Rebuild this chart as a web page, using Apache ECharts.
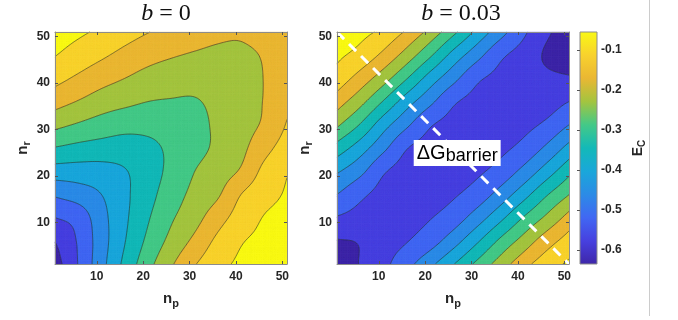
<!DOCTYPE html>
<html>
<head>
<meta charset="utf-8">
<script src="https://cdn.jsdelivr.net/npm/echarts@6/dist/echarts.min.js"></script>
<style>
html,body{margin:0;padding:0;background:#ffffff;}
#chart{width:678px;height:320px;}
</style>
</head>
<body>
<div id="chart"></div>
<script>
// ---------------- data ----------------
// grid node positions used for both n_p (columns) and n_r (rows)
const nGrid = [1, 6, 11, 16, 21, 26, 31, 36, 41, 46, 51];
const axisTickValues = [10, 20, 30, 40, 50];
const colorbarTickValues = [-0.6, -0.5, -0.4, -0.3, -0.2, -0.1];
const ecLimits = [-0.635, -0.055];
const contourLevels = [-0.606, -0.548, -0.49, -0.432, -0.374, -0.316, -0.258, -0.2, -0.142, -0.084];
const panelTitles = ['b = 0', 'b = 0.03'];
const barrierLabel = ['\u0394G', 'barrier'];
const barrierLabelAt = [[26.9, 24.9]];
const barrierPath = [[1, 51], [51, 1]];

// E_C, b = 0 : rows are n_r = 1..51, columns n_p = 1..51
const ecB0 = [
  [-0.632, -0.546, -0.452, -0.360, -0.278, -0.208, -0.147, -0.102, -0.075, -0.063, -0.055],
  [-0.604, -0.542, -0.458, -0.377, -0.304, -0.242, -0.188, -0.130, -0.089, -0.073, -0.062],
  [-0.548, -0.525, -0.452, -0.385, -0.322, -0.266, -0.222, -0.167, -0.117, -0.082, -0.068],
  [-0.482, -0.462, -0.432, -0.386, -0.336, -0.286, -0.243, -0.208, -0.143, -0.105, -0.078],
  [-0.400, -0.400, -0.396, -0.378, -0.341, -0.302, -0.259, -0.228, -0.194, -0.128, -0.088],
  [-0.319, -0.332, -0.339, -0.341, -0.330, -0.305, -0.277, -0.247, -0.215, -0.162, -0.115],
  [-0.243, -0.264, -0.283, -0.297, -0.298, -0.290, -0.274, -0.249, -0.222, -0.192, -0.138],
  [-0.178, -0.203, -0.228, -0.244, -0.258, -0.262, -0.262, -0.245, -0.224, -0.198, -0.152],
  [-0.124, -0.152, -0.179, -0.200, -0.220, -0.232, -0.238, -0.235, -0.225, -0.199, -0.160],
  [-0.082, -0.108, -0.133, -0.158, -0.180, -0.195, -0.205, -0.210, -0.208, -0.196, -0.165],
  [-0.058, -0.074, -0.095, -0.118, -0.140, -0.160, -0.177, -0.190, -0.195, -0.185, -0.170]
];

// E_C, b = 0.03
const ecB003 = [
  [-0.625, -0.604, -0.563, -0.510, -0.448, -0.378, -0.305, -0.234, -0.165, -0.110, -0.075],
  [-0.609, -0.602, -0.574, -0.551, -0.517, -0.459, -0.386, -0.308, -0.239, -0.171, -0.118],
  [-0.552, -0.568, -0.580, -0.566, -0.551, -0.521, -0.464, -0.393, -0.316, -0.249, -0.180],
  [-0.490, -0.535, -0.566, -0.575, -0.566, -0.554, -0.525, -0.470, -0.400, -0.324, -0.259],
  [-0.424, -0.474, -0.541, -0.568, -0.575, -0.567, -0.557, -0.529, -0.476, -0.407, -0.333],
  [-0.340, -0.404, -0.476, -0.545, -0.567, -0.575, -0.569, -0.560, -0.533, -0.481, -0.413],
  [-0.248, -0.320, -0.408, -0.479, -0.542, -0.565, -0.575, -0.570, -0.563, -0.538, -0.490],
  [-0.172, -0.239, -0.320, -0.405, -0.475, -0.539, -0.564, -0.575, -0.577, -0.574, -0.548],
  [-0.108, -0.166, -0.233, -0.313, -0.399, -0.471, -0.536, -0.563, -0.585, -0.595, -0.600],
  [-0.073, -0.104, -0.156, -0.225, -0.306, -0.394, -0.467, -0.534, -0.571, -0.612, -0.632],
  [-0.050, -0.068, -0.098, -0.150, -0.218, -0.300, -0.386, -0.464, -0.534, -0.596, -0.626]
];

// ---------------- styles ----------------
const bandColors = ['#3e26a8', '#4740df', '#4167f3', '#2c8be6', '#1aa7da', '#13b9b8',
                    '#44c987', '#a4c43f', '#eab733', '#f8d22d', '#f9f914'];
const FONT = 'Liberation Sans';
const TXT = '#262626';
const FRAME = '#8c8c8c';

// ---------------- contour helpers ----------------
function cr(p0, p1, p2, p3, t) {
  const t2 = t * t, t3 = t2 * t;
  return 0.5 * (2 * p1 + (-p0 + p2) * t + (2 * p0 - 5 * p1 + 4 * p2 - p3) * t2 + (-p0 + 3 * p1 - 3 * p2 + p3) * t3);
}
function refine1(arr, sub) {
  const n = arr.length;
  const ext = i => i < 0 ? 2 * arr[0] - arr[1] : (i >= n ? 2 * arr[n - 1] - arr[n - 2] : arr[i]);
  const out = [];
  for (let i = 0; i < n - 1; i++) {
    for (let s = 0; s < sub; s++) out.push(cr(ext(i - 1), ext(i), ext(i + 1), ext(i + 2), s / sub));
  }
  out.push(arr[n - 1]);
  return out;
}
function refine2(grid, sub) {
  const rows = grid.map(r => refine1(r, sub));
  const M = rows[0].length;
  const cols = [];
  for (let m = 0; m < M; m++) cols.push(refine1(rows.map(r => r[m]), sub));
  const K = cols[0].length;
  const fine = [];
  for (let k = 0; k < K; k++) fine.push(cols.map(c => c[k]));
  return fine;
}
function bandOf(v) {
  let k = 0;
  while (k < contourLevels.length && v >= contourLevels[k]) k++;
  return k;
}
function clipPoly(poly, level, keepAbove) {
  const out = [];
  const n = poly.length;
  for (let i = 0; i < n; i++) {
    const A = poly[i], B = poly[(i + 1) % n];
    const ina = keepAbove ? A.v >= level : A.v <= level;
    const inb = keepAbove ? B.v >= level : B.v <= level;
    if (ina) out.push(A);
    if (ina !== inb) {
      const t = (level - A.v) / (B.v - A.v);
      out.push({x: A.x + t * (B.x - A.x), y: A.y + t * (B.y - A.y), v: level});
    }
  }
  return out;
}
const f2 = x => Math.round(x * 100) / 100;
function polyStr(poly) {
  let s = 'M' + f2(poly[0].x) + ' ' + f2(poly[0].y);
  for (let i = 1; i < poly.length; i++) s += 'L' + f2(poly[i].x) + ' ' + f2(poly[i].y);
  return s + 'Z';
}

function makeContourRender(grid) {
  return function (params, api) {
    const sub = 10;
    const fine = refine2(grid, sub);
    const K = fine.length;
    const step = (nGrid[1] - nGrid[0]) / sub;
    const P = [];
    for (let k = 0; k < K; k++) {
      const row = [];
      for (let m = 0; m < K; m++) {
        const c = api.coord([nGrid[0] + m * step, nGrid[0] + k * step]);
        row.push({x: c[0], y: c[1], v: fine[k][m]});
      }
      P.push(row);
    }
    const bands = bandColors.map(() => []);
    const lines = [];
    const L = contourLevels;
    function doTri(tri) {
      const vs = tri.map(p => p.v);
      const vmin = Math.min.apply(null, vs), vmax = Math.max.apply(null, vs);
      const b0 = bandOf(vmin), b1 = bandOf(vmax);
      for (let b = b0; b <= b1; b++) {
        let poly = tri;
        if (b > 0) poly = clipPoly(poly, L[b - 1], true);
        if (poly.length >= 3 && b < L.length) poly = clipPoly(poly, L[b], false);
        if (poly.length >= 3) bands[b].push(polyStr(poly));
      }
      for (let l = 0; l < L.length; l++) {
        const lev = L[l];
        if (!(vmin < lev && vmax >= lev)) continue;
        const pts = [];
        for (let i = 0; i < 3; i++) {
          const A = tri[i], B = tri[(i + 1) % 3];
          if ((A.v >= lev) !== (B.v >= lev)) {
            const t = (lev - A.v) / (B.v - A.v);
            pts.push([A.x + t * (B.x - A.x), A.y + t * (B.y - A.y)]);
          }
        }
        if (pts.length === 2) lines.push('M' + f2(pts[0][0]) + ' ' + f2(pts[0][1]) + 'L' + f2(pts[1][0]) + ' ' + f2(pts[1][1]));
      }
    }
    for (let k = 0; k < K - 1; k++) {
      for (let m = 0; m < K - 1; m++) {
        const A = P[k][m], B = P[k][m + 1], C = P[k + 1][m + 1], D = P[k + 1][m];
        const ba = bandOf(A.v);
        if (ba === bandOf(B.v) && ba === bandOf(C.v) && ba === bandOf(D.v)) {
          bands[ba].push(polyStr([A, B, C, D]));
        } else {
          doTri([A, B, C]);
          doTri([A, C, D]);
        }
      }
    }
    const children = [];
    bands.forEach((arr, b) => {
      if (arr.length) children.push({type: 'path', shape: {pathData: arr.join('')},
        style: {fill: bandColors[b], stroke: bandColors[b], lineWidth: 0.3}});
    });
    children.push({type: 'path', shape: {pathData: lines.join('')},
      style: {fill: null, stroke: '#1a1a1a', lineWidth: 0.6, opacity: 0.9}});
    return {type: 'group', children: children};
  };
}

function colorbarRender(params, api) {
  const top = api.coord([0, ecLimits[1]]);
  const bot = api.coord([1, ecLimits[0]]);
  const stops = bandColors.map((c, k) => ({offset: 1 - k / (bandColors.length - 1), color: c})).reverse();
  return {
    type: 'rect',
    shape: {x: top[0], y: top[1], width: bot[0] - top[0], height: bot[1] - top[1]},
    style: {fill: new echarts.graphic.LinearGradient(0, 0, 0, 1, stops), stroke: FRAME, lineWidth: 1}
  };
}

// ---------------- axes ----------------
const labelStyle = {fontFamily: FONT, fontWeight: 'bold', fontSize: 12, color: TXT};
const nameRich = {
  n: {fontFamily: FONT, fontWeight: 'bold', fontSize: 15, color: TXT, lineHeight: 20},
  s: {fontFamily: FONT, fontWeight: 'bold', fontSize: 11, color: TXT, lineHeight: 8, verticalAlign: 'bottom'}
};
function xBottom(gi) {
  return {gridIndex: gi, type: 'value', min: 1, max: 51, position: 'bottom', z: 10,
    axisLine: {show: true, lineStyle: {color: FRAME, width: 1}},
    axisTick: {show: true, inside: true, length: 3, customValues: axisTickValues, lineStyle: {color: '#555'}},
    axisLabel: Object.assign({customValues: axisTickValues, margin: 7}, labelStyle),
    splitLine: {show: false},
    name: '{n|n}{s|p}', nameLocation: 'middle', nameGap: 25, nameTextStyle: {rich: nameRich}};
}
function xTop(gi) {
  return {gridIndex: gi, type: 'value', min: 1, max: 51, position: 'top', z: 10,
    axisLine: {show: true, lineStyle: {color: FRAME, width: 1}},
    axisTick: {show: true, inside: true, length: 3, customValues: axisTickValues, lineStyle: {color: '#555'}},
    axisLabel: {show: false}, splitLine: {show: false}};
}
function yLeft(gi, gap) {
  return {gridIndex: gi, type: 'value', min: 1, max: 51, position: 'left', z: 10,
    axisLine: {show: true, lineStyle: {color: FRAME, width: 1}},
    axisTick: {show: true, inside: true, length: 3, customValues: axisTickValues, lineStyle: {color: '#555'}},
    axisLabel: Object.assign({customValues: axisTickValues, margin: 5}, labelStyle),
    splitLine: {show: false},
    name: '{n|n}{s|r}', nameLocation: 'middle', nameGap: gap, nameRotate: 90, nameTextStyle: {rich: nameRich}};
}
function yRight(gi) {
  return {gridIndex: gi, type: 'value', min: 1, max: 51, position: 'right', z: 10,
    axisLine: {show: true, lineStyle: {color: FRAME, width: 1}},
    axisTick: {show: true, inside: true, length: 3, customValues: axisTickValues, lineStyle: {color: '#555'}},
    axisLabel: {show: false}, splitLine: {show: false}};
}

function titleText(t, cx) {
  return {type: 'text', x: cx, y: 14, z: 20,
    style: {text: '{i|' + t.charAt(0) + '}{r|' + t.slice(1) + '}',
      rich: {i: {fontFamily: 'Liberation Serif', fontStyle: 'italic', fontSize: 24, fill: '#111'},
             r: {fontFamily: 'Liberation Serif', fontSize: 24, fill: '#111'}},
      align: 'center', verticalAlign: 'middle', textAlign: 'center', textVerticalAlign: 'middle'}};
}

const option = {
  animation: false,
  backgroundColor: '#ffffff',
  grid: [
    {left: 55, top: 32, width: 232, height: 232},
    {left: 337, top: 32, width: 232, height: 232},
    {left: 580, top: 32, width: 17, height: 232}
  ],
  xAxis: [
    xBottom(0), xTop(0), xBottom(1), xTop(1),
    {gridIndex: 2, type: 'value', min: 0, max: 1, show: false}
  ],
  yAxis: [
    yLeft(0, 22), yRight(0), yLeft(1, 22), yRight(1),
    {gridIndex: 2, type: 'value', min: ecLimits[0], max: ecLimits[1], position: 'right', z: 10,
      axisLine: {show: false},
      axisTick: {show: true, inside: true, length: 3, customValues: colorbarTickValues, lineStyle: {color: '#555'}},
      axisLabel: Object.assign({customValues: colorbarTickValues, margin: 4}, labelStyle),
      splitLine: {show: false},
      name: '{n|E}{s|C}', nameLocation: 'middle', nameGap: 32, nameRotate: 90,
      nameTextStyle: {rich: {
        n: {fontFamily: FONT, fontWeight: 'bold', fontSize: 14, color: TXT, lineHeight: 18},
        s: {fontFamily: FONT, fontWeight: 'bold', fontSize: 10, color: TXT, lineHeight: 8, verticalAlign: 'bottom'}}}}
  ],
  series: [
    {type: 'custom', xAxisIndex: 0, yAxisIndex: 0, data: [[1, 1]], renderItem: makeContourRender(ecB0), silent: true, z: 2},
    {type: 'custom', xAxisIndex: 2, yAxisIndex: 2, data: [[1, 1]], renderItem: makeContourRender(ecB003), silent: true, z: 2},
    {type: 'line', xAxisIndex: 2, yAxisIndex: 2, data: barrierPath, symbol: 'none', silent: true, z: 4,
      lineStyle: {color: '#ffffff', width: 3, type: [10, 7]}},
    {type: 'scatter', xAxisIndex: 2, yAxisIndex: 2, data: barrierLabelAt, symbolSize: 1, silent: true, z: 5,
      itemStyle: {opacity: 1, color: '#ffffff'},
      label: {show: true, position: 'inside', opacity: 1, formatter: '{a|' + barrierLabel[0] + '}{b|' + barrierLabel[1] + '}',
        backgroundColor: '#ffffff', padding: [1, 3, 1, 3],
        rich: {a: {fontFamily: FONT, fontSize: 20, color: '#000', lineHeight: 24},
               b: {fontFamily: FONT, fontSize: 18, color: '#000', lineHeight: 12, verticalAlign: 'bottom'}}}},
    {type: 'custom', xAxisIndex: 4, yAxisIndex: 4, data: [[0, 0]], renderItem: colorbarRender, silent: true, z: 2}
  ],
  graphic: [
    titleText(panelTitles[0], 166),
    titleText(panelTitles[1], 461),
    {type: 'line', z: 20, shape: {x1: 649.5, y1: 0, x2: 649.5, y2: 316}, style: {stroke: '#cccccc', lineWidth: 1}}
  ]
};

const chart = echarts.init(document.getElementById('chart'), null, {renderer: 'canvas'});
chart.setOption(option);
</script>
</body>
</html>
